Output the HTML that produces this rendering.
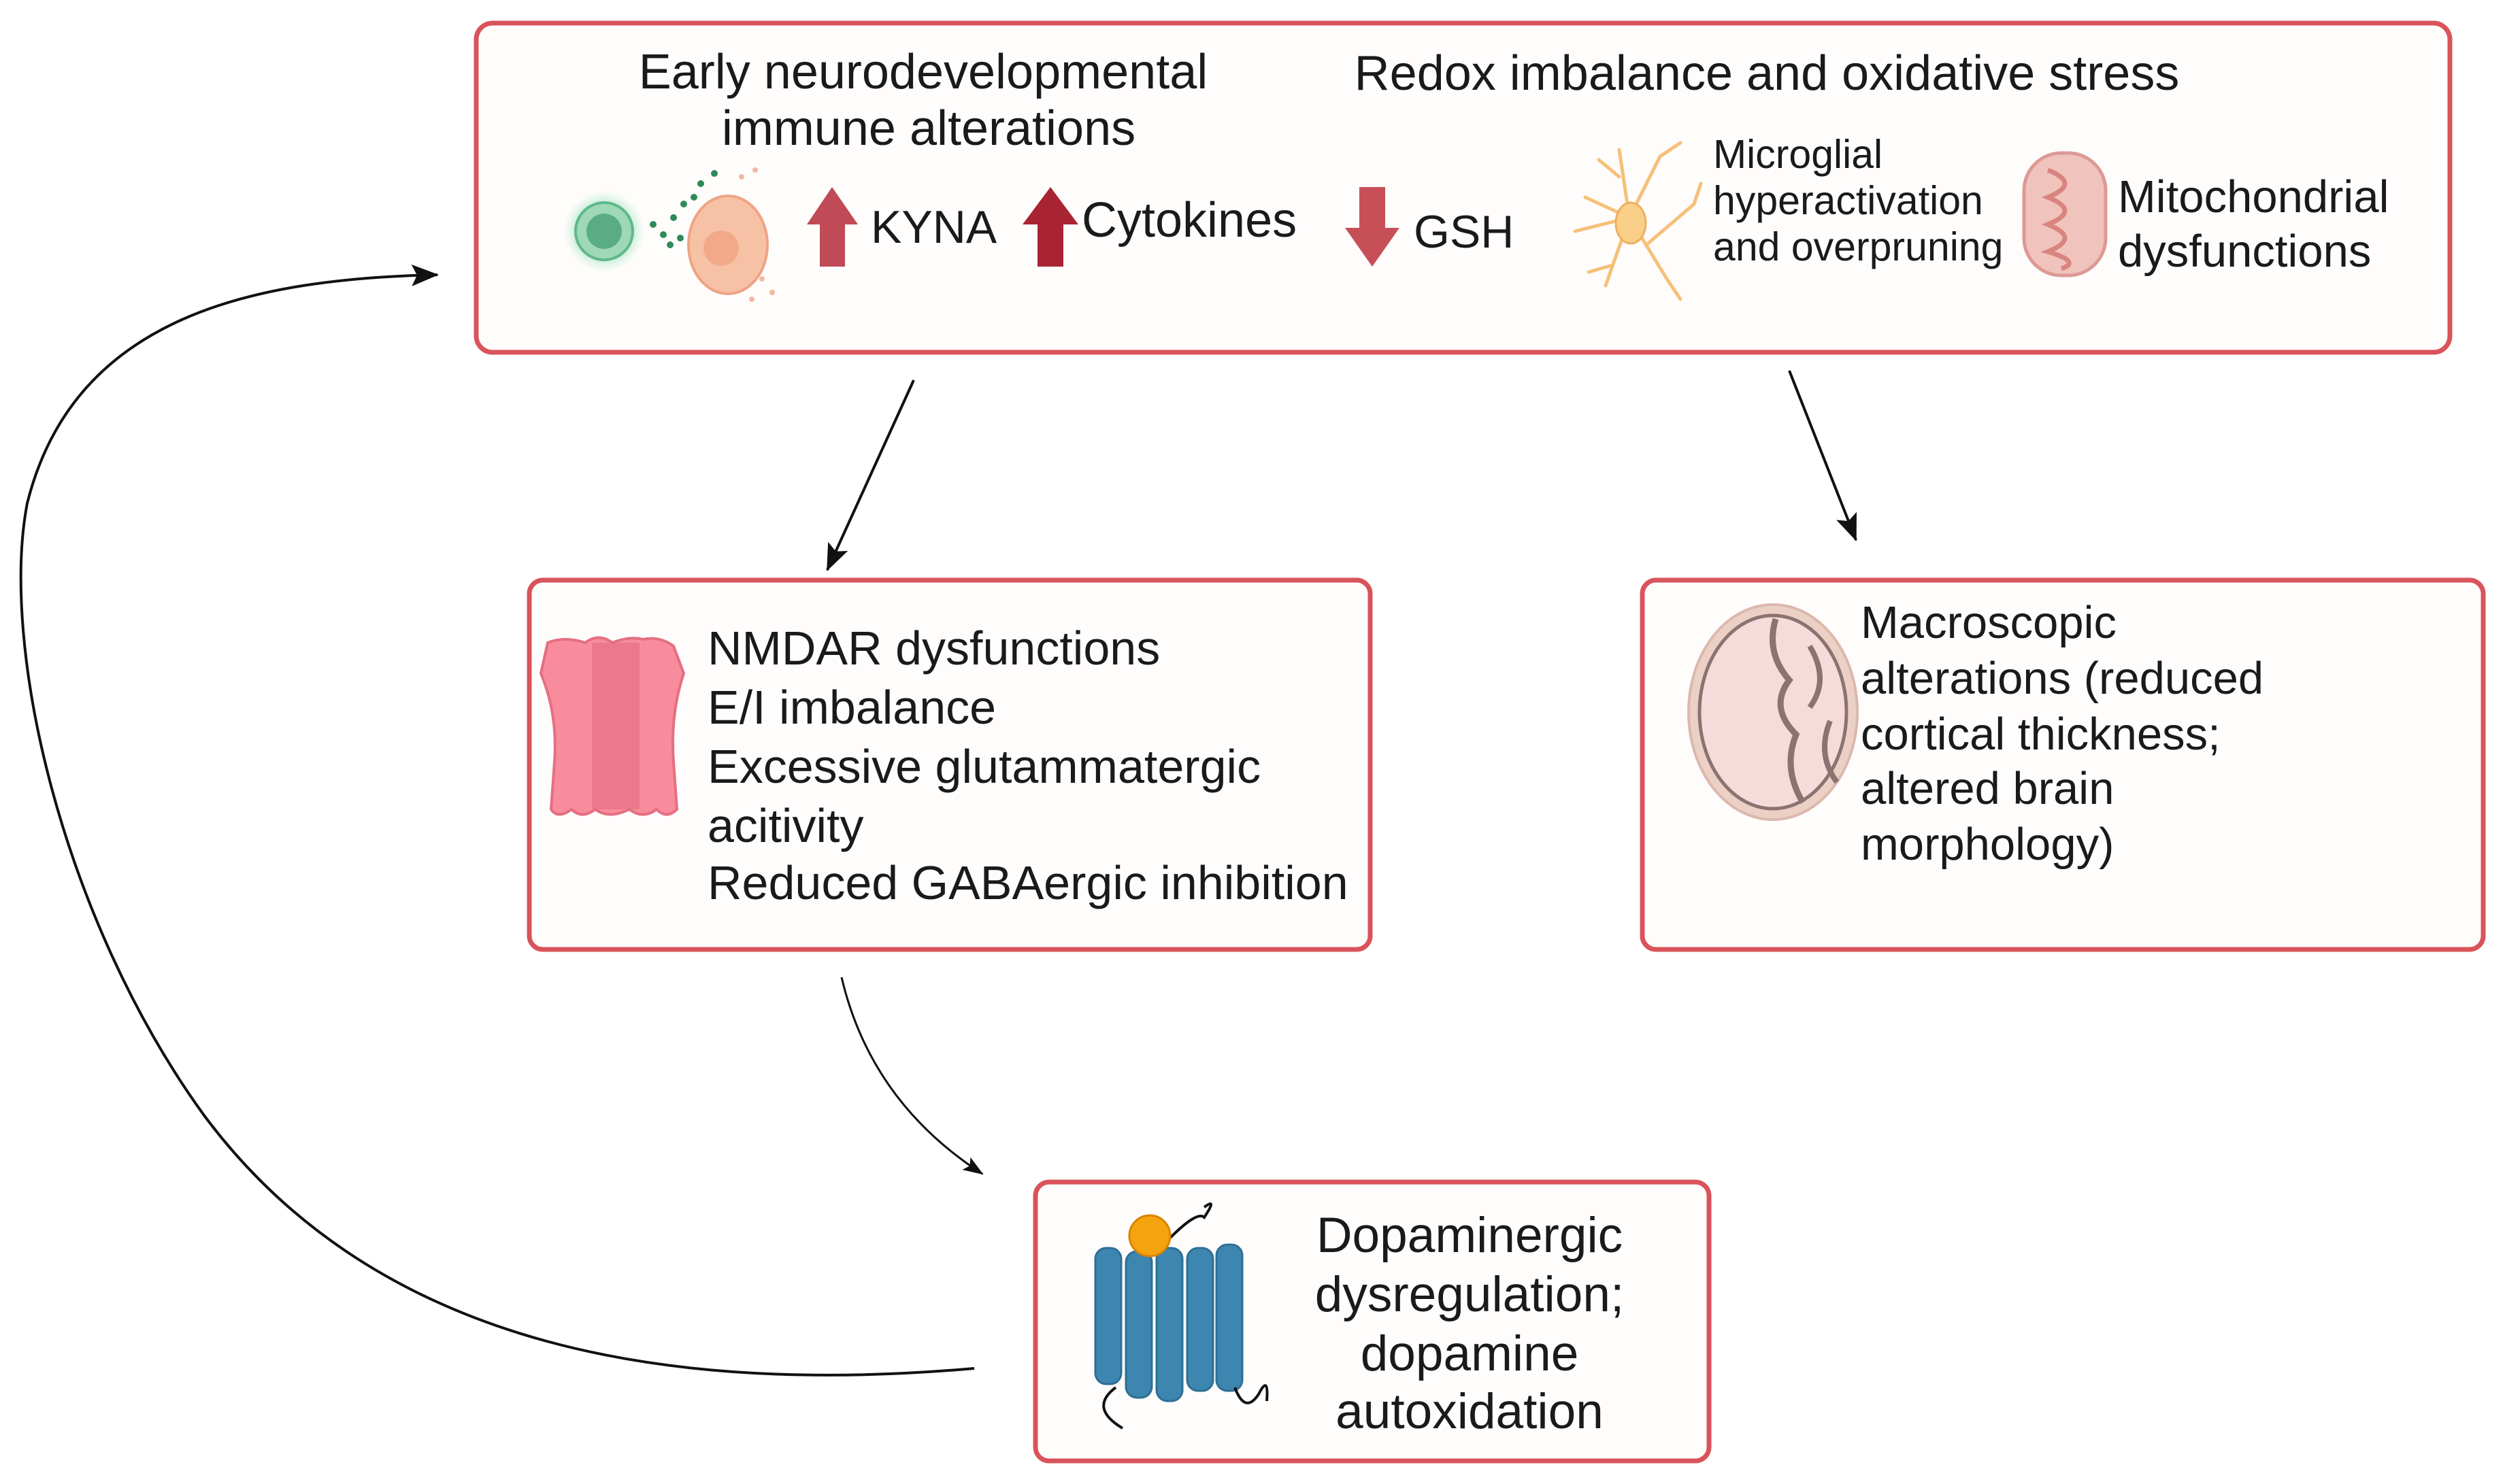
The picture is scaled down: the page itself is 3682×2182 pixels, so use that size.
<!DOCTYPE html>
<html><head><meta charset="utf-8"><style>
html,body{margin:0;padding:0;background:#fff;}
svg{display:block;}
text{font-family:"Liberation Sans",sans-serif;fill:#1a1a1a;}
</style></head><body>
<svg width="3682" height="2182" viewBox="0 0 3682 2182" xmlns="http://www.w3.org/2000/svg">
<defs>
<marker id="ah" markerWidth="40" markerHeight="40" refX="38" refY="20" orient="auto" markerUnits="userSpaceOnUse" viewBox="0 0 40 40">
<path d="M0,4 L40,20 L0,36 L8,20 z" fill="#111"/></marker>
<marker id="ahs" markerWidth="30" markerHeight="30" refX="28" refY="15" orient="auto" markerUnits="userSpaceOnUse" viewBox="0 0 30 30">
<path d="M0,4 L30,15 L0,26 L6,15 z" fill="#111"/></marker>
<radialGradient id="glow"><stop offset="0.5" stop-color="#7fd6a6" stop-opacity="0.9"/><stop offset="1" stop-color="#bff0d3" stop-opacity="0"/></radialGradient>
</defs>
<!-- boxes -->
<rect x="700" y="34" width="2901" height="484" rx="24" fill="#fffcfc" stroke="#d9545a" stroke-width="7"/>
<rect x="778" y="853" width="1236" height="543" rx="20" fill="#fffcfc" stroke="#d9545a" stroke-width="7"/>
<rect x="2414" y="853" width="1236" height="543" rx="20" fill="#fffcfc" stroke="#d9545a" stroke-width="7"/>
<rect x="1522" y="1738" width="990" height="410" rx="20" fill="#fffcfc" stroke="#d9545a" stroke-width="7"/>

<!-- top texts -->
<g font-size="72" text-anchor="middle">
<text x="1357" y="130">Early neurodevelopmental</text>
<text x="1365" y="213">immune alterations</text>
<text x="2597" y="132">Redox imbalance and oxidative stress</text>
</g>
<!-- cells -->
<circle cx="888" cy="340" r="60" fill="url(#glow)"/>
<circle cx="888" cy="340" r="42" fill="#9fd8b6" stroke="#5fb88a" stroke-width="4"/>
<circle cx="888" cy="340" r="26" fill="#5aac84"/>
<g fill="#2f8a5a">
<circle cx="960" cy="330" r="5"/><circle cx="975" cy="345" r="5"/><circle cx="990" cy="320" r="5"/><circle cx="1005" cy="300" r="5"/><circle cx="1000" cy="350" r="5"/><circle cx="1020" cy="290" r="5"/><circle cx="1030" cy="270" r="5"/><circle cx="1050" cy="255" r="5"/><circle cx="985" cy="360" r="5"/>
</g>
<ellipse cx="1070" cy="360" rx="58" ry="72" fill="#f7c1a6" stroke="#eea484" stroke-width="4"/>
<circle cx="1060" cy="365" r="26" fill="#f2a98a"/>
<g fill="#f2b9a0"><circle cx="1120" cy="410" r="4"/><circle cx="1135" cy="430" r="4"/><circle cx="1105" cy="440" r="4"/><circle cx="1090" cy="260" r="4"/><circle cx="1110" cy="250" r="4"/></g>
<!-- arrows up/down -->
<path d="M1205,392 V330 H1186 L1223,275 L1261,330 H1242 V392 Z" fill="#c04a55"/>
<text x="1280" y="357" font-size="68">KYNA</text>
<path d="M1525,392 V330 H1503 L1544,275 L1585,330 H1563 V392 Z" fill="#a82432"/>
<text x="1590" y="348" font-size="72">Cytokines</text>
<path d="M1998,275 V335 H1977 L2017,392 L2057,335 H2036 V275 Z" fill="#c75058"/>
<text x="2078" y="364" font-size="68">GSH</text>
<!-- microglia -->
<g stroke="#f5c178" stroke-width="5" fill="none" stroke-linecap="round">
<path d="M2395,320 L2380,220 M2380,260 L2350,235 M2395,320 L2330,290 M2395,320 L2360,420 M2370,390 L2335,400 M2395,320 L2450,410 L2470,440 M2420,360 L2490,300 L2500,270 M2395,320 L2440,230 L2470,210 M2395,320 L2315,340"/>
</g>
<ellipse cx="2397" cy="328" rx="22" ry="30" fill="#f9cf8a" stroke="#eeb060" stroke-width="3"/>
<g font-size="59">
<text x="2518" y="247">Microglial</text>
<text x="2518" y="315">hyperactivation</text>
<text x="2518" y="383">and overpruning</text>
</g>
<!-- mitochondria -->
<rect x="2975" y="225" width="120" height="180" rx="55" fill="#f1c3bd" stroke="#dc9a94" stroke-width="5"/>
<path d="M3010,250 Q3060,270 3010,290 Q3060,310 3010,330 Q3060,350 3010,370 Q3060,385 3030,395" stroke="#d8857f" stroke-width="7" fill="none"/>
<g font-size="67">
<text x="3113" y="312">Mitochondrial</text>
<text x="3113" y="392">dysfunctions</text>
</g>

<!-- NMDA box -->
<path d="M805,945 Q830,935 860,945 Q880,930 900,945 Q925,935 945,940 Q970,935 990,950 L1005,990 Q985,1050 990,1120 L995,1190 Q980,1205 965,1190 Q945,1205 925,1190 Q895,1205 875,1190 Q855,1205 840,1190 Q820,1205 810,1190 L815,1120 Q820,1050 795,990 Z" fill="#f98c9c" stroke="#e56f82" stroke-width="4"/>
<rect x="870" y="945" width="70" height="245" fill="#e56f86" opacity="0.7"/>
<g font-size="70">
<text x="1040" y="977">NMDAR dysfunctions</text>
<text x="1040" y="1064">E/I imbalance</text>
<text x="1040" y="1151">Excessive glutammatergic</text>
<text x="1040" y="1238">acitivity</text>
<text x="1040" y="1322">Reduced GABAergic inhibition</text>
</g>

<!-- brain box -->
<ellipse cx="2606" cy="1047" rx="124" ry="158" fill="#ecd0c6" stroke="#dcb8ac" stroke-width="4"/>
<ellipse cx="2606" cy="1047" rx="108" ry="142" fill="#f7dada" stroke="#8a7370" stroke-width="5"/>
<path d="M2610,910 Q2595,960 2630,1000 Q2600,1040 2640,1080 Q2620,1130 2650,1180" stroke="#8a7370" stroke-width="9" fill="none"/>
<path d="M2660,950 Q2690,1000 2660,1040 M2690,1060 Q2670,1110 2700,1150" stroke="#8a7370" stroke-width="8" fill="none"/>
<g font-size="67">
<text x="2735" y="938">Macroscopic</text>
<text x="2735" y="1020">alterations (reduced</text>
<text x="2735" y="1102">cortical thickness;</text>
<text x="2735" y="1182">altered brain</text>
<text x="2735" y="1264">morphology)</text>
</g>

<!-- dopamine box -->
<g fill="#3c86b0" stroke="#2d6f95" stroke-width="3">
<rect x="1610" y="1835" width="38" height="200" rx="16"/>
<rect x="1655" y="1840" width="38" height="215" rx="16"/>
<rect x="1700" y="1835" width="38" height="225" rx="16"/>
<rect x="1745" y="1835" width="38" height="210" rx="16"/>
<rect x="1788" y="1830" width="38" height="215" rx="16"/>
</g>
<path d="M1640,2040 Q1600,2070 1650,2100 M1815,2040 Q1830,2080 1850,2050 Q1865,2020 1862,2060" stroke="#111" stroke-width="4" fill="none"/>
<path d="M1720,1820 Q1760,1780 1770,1790 Q1790,1760 1770,1775" stroke="#111" stroke-width="4" fill="none"/>
<circle cx="1690" cy="1817" r="30" fill="#f5a30f" stroke="#d98400" stroke-width="3"/>
<g font-size="73" text-anchor="middle">
<text x="2160" y="1841">Dopaminergic</text>
<text x="2160" y="1928">dysregulation;</text>
<text x="2160" y="2015">dopamine</text>
<text x="2160" y="2100">autoxidation</text>
</g>

<!-- connectors -->
<path d="M1343,559 L1216,838" stroke="#111" stroke-width="4" fill="none" marker-end="url(#ah)"/>
<path d="M2630,545 L2728,794" stroke="#111" stroke-width="4" fill="none" marker-end="url(#ah)"/>
<path d="M1237,1437 Q1280,1620 1444,1726" stroke="#111" stroke-width="3" fill="none" marker-end="url(#ahs)"/>
<path d="M1432,2012 C1000,2050 560,1990 300,1640 C90,1350 0,950 40,740 C110,460 380,410 643,404" stroke="#111" stroke-width="4" fill="none" marker-end="url(#ah)"/>
</svg>
</body></html>
